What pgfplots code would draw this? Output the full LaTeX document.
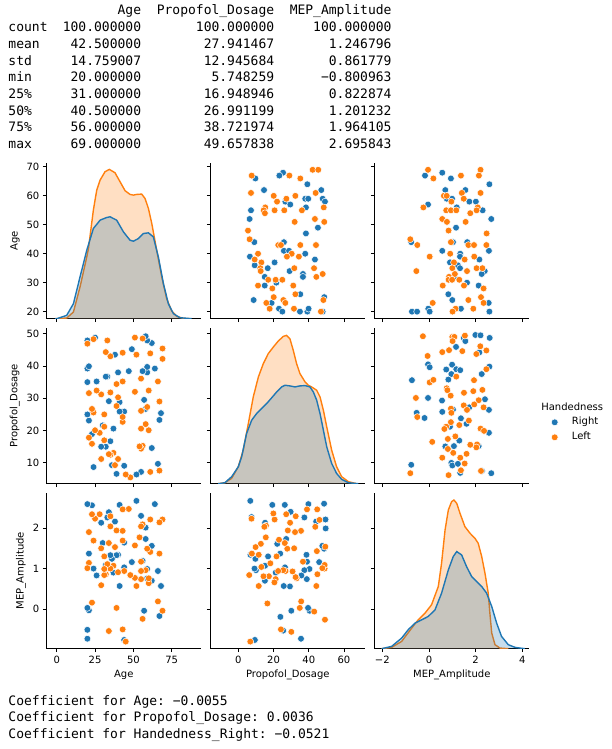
\documentclass[border=0pt]{standalone}
\usepackage{fontspec}
\setmainfont{DejaVu Sans}
\newfontfamily\mono{DejaVu Sans Mono}
\usepackage{pgfplots}
\pgfplotsset{compat=1.18}
\usepackage{pgfplotstable}
\definecolor{tblue}{HTML}{1F77B4}
\definecolor{torange}{HTML}{FF7F0E}
\newcommand\mtxt{\mono\frenchspacing\fontsize{13}{16}\selectfont}

% ---------- scatter data ----------
\pgfplotstableread{
p a
25.4 68
9.7 66
23.3 67
39.2 64
14.6 62
47.1 62
26.7 58
29.5 57
38.0 59
39.7 59
47.9 59
49.2 58
7.2 55
38.4 56
6.4 52
45.2 49
38.4 47
9.1 44
25.9 44
25.9 41
28.8 41
38.0 40
6.6 39
43.5 38
20.6 37
9.3 36
16.7 35
29.1 34
36.7 33
36.7 32
15.0 32
21.6 30
15.0 29
35.2 26
48.8 25
8.7 24
18.9 23
23.1 21
25.0 20
35.0 20
39.2 20
39.9 21
47.9 20
}\APR
\pgfplotstableread{
p a
42.2 69
45.4 69
7.6 67
29.0 67
35.2 66
7.2 61
43.9 61
20.1 60
32.4 60
27.3 59
22.0 58
15.3 56
14.4 55
15.1 54
20.6 55
26.1 55
36.1 55
48.5 56
43.5 52
32.0 51
48.8 51
5.5 48
6.4 45
22.7 43
24.2 43
35.2 43
44.1 43
11.2 40
30.3 40
27.6 39
34.4 39
9.3 38
13.1 37
12.5 35
12.7 34
31.8 35
43.0 35
47.9 33
44.3 32
17.0 31
21.2 31
25.0 31
11.2 29
31.2 29
19.3 28
32.4 26
20.1 25
25.6 24
48.3 24
15.9 23
26.7 23
17.8 21
31.6 21
46.9 20
}\APL
\pgfplotstableread{
m a
-0.17 67
0.57 68
0.94 66
2.59 64
0.70 62
1.56 62
0.76 59
0.99 59
1.73 58
2.01 58
-0.04 57
1.19 56
2.30 55
2.67 52
1.16 49
-0.76 44
1.03 44
1.64 44
0.57 41
2.57 41
1.34 40
1.33 39
2.16 38
0.90 37
1.24 36
1.33 35
2.39 34
2.26 33
1.09 32
1.63 30
2.13 29
0.83 26
1.00 24
2.56 23
-0.03 21
1.37 21
-0.73 20
-0.51 20
0.03 20
2.59 20
}\AMR
\pgfplotstableread{
m a
-0.04 69
2.21 69
0.19 66
1.37 67
2.14 67
1.41 61
2.21 61
0.64 60
0.76 60
1.49 59
0.96 58
-0.24 56
2.09 56
0.74 55
0.94 55
1.17 55
1.77 54
2.04 55
0.57 52
0.77 51
1.57 51
0.84 48
2.47 47
-0.80 45
-0.50 43
0.94 44
1.69 43
1.93 43
2.46 43
0.91 40
0.03 39
1.53 38
1.94 39
1.07 37
1.00 35
1.63 34
2.04 35
2.29 35
-0.54 34
1.11 33
0.86 32
0.84 31
0.99 31
1.30 31
0.59 29
1.50 29
2.34 28
2.23 25
1.69 24
0.16 23
2.34 23
1.14 21
1.90 21
1.01 20
}\AML
\pgfplotstableread{
m p
1.49 48.7
1.56 47.7
1.99 49.6
2.21 49.5
2.60 48.7
1.16 45.9
2.16 44.2
-0.04 40.5
0.03 39.6
0.99 40.4
0.74 38.9
1.17 39.0
1.34 38.7
0.96 37.5
2.59 39.8
2.26 37.5
-0.73 35.6
0.83 35.8
-0.04 30.1
0.56 29.3
2.40 29.7
1.73 27.2
1.03 26.5
0.57 25.8
2.57 26.4
-0.53 25.5
-0.19 23.9
1.37 23.8
1.61 22.1
0.90 21.2
2.57 19.3
1.30 16.9
0.70 15.1
1.07 15.2
2.13 15.2
0.96 10.0
1.00 9.2
1.24 9.7
-0.76 9.4
1.34 6.9
2.27 7.5
2.67 6.8
}\PMR
\pgfplotstableread{
m p
-0.26 49.2
1.00 49.0
1.09 49.0
1.01 47.7
1.54 49.4
2.20 46.1
0.57 44.3
0.86 44.9
1.43 44.6
2.03 43.7
2.46 44.8
-0.06 43.1
2.46 39.0
1.17 36.7
0.03 34.9
0.19 35.7
1.93 35.6
0.76 33.1
0.79 32.5
1.50 31.7
1.90 32.2
2.29 32.6
0.93 30.8
-0.56 30.1
2.13 29.4
1.49 27.8
1.94 28.1
2.34 27.2
1.63 26.4
0.94 26.8
0.96 25.5
-0.50 24.2
1.71 23.1
0.94 22.6
1.30 21.7
0.74 21.2
0.66 20.5
2.21 20.6
2.36 19.9
1.13 18.2
0.81 17.4
0.14 16.5
1.77 15.6
2.06 15.7
2.03 14.8
1.04 13.1
1.61 12.8
0.57 11.6
1.34 11.6
0.81 14.3
1.53 9.8
1.37 7.7
-0.80 6.8
0.84 6.2
2.23 7.5
}\PML

% ---------- KDE curves (x, height in panel units) ----------
\pgfplotstableread{
x h
-1.1 0
0 0
6.5 10
10.9 45
15.2 125
19.6 205
23.9 270
28.3 295
32.6 303
34.8 305
39.1 295
43.5 260
47.8 235
50 232
53.3 240
56.5 255
59.8 257
63.0 245
66.3 185
69.6 105
72.8 45
76.1 15
80.4 3
88 0
}\kAR
\pgfplotstableread{
x h
-1.1 0
6.5 2
10.9 20
15.2 95
19.6 185
20.7 210
23.9 325
26.1 385
28.3 415
31.5 440
34.3 447
38.0 437
41.3 410
44.6 383
47.8 372
50 370
52.2 372
55.4 373
57.6 360
59.8 330
62.0 285
65.2 205
68.5 125
71.7 60
75 23
78.3 7
82.6 1
87 0
}\kAL
\pgfplotstableread{
x h
-11.4 0
-7.6 3
-3.8 21
0 51
1.9 81
4.7 151
7.6 191
10.4 211
13.2 226
16.1 241
18.9 258
21.8 276
24.6 291
26.5 296
29.3 294
32.2 291
35.0 294
37.9 295
40.7 291
42.6 276
44.5 251
46.4 211
48.3 161
50.2 111
53.0 61
55.8 31
58.7 13
62.5 3
68.1 0
}\kPR
\pgfplotstableread{
x h
-11.4 0
-7.6 3
-3.8 16
0 51
2.8 101
5.7 181
8.5 261
11.4 321
14.2 361
17.0 391
19.9 411
22.7 429
25.6 443
27.4 446
29.3 436
31.2 401
33.1 361
35.0 331
37.9 306
39.7 296
41.6 291
44.5 281
46.4 261
48.3 221
50.2 171
53.0 101
55.8 51
58.7 21
62.5 6
67.2 0
}\kPL
\pgfplotstableread{
x h
-2.03 0
-1.6 7
-1.17 32
-0.89 57
-0.6 77
-0.31 87
-0.03 97
0.26 117
0.54 167
0.83 237
1.04 277
1.19 292
1.4 282
1.61 247
1.83 217
2.04 202
2.26 187
2.47 167
2.69 127
2.9 77
3.11 37
3.4 12
3.69 4
4.11 0
}\kMR
\pgfplotstableread{
x h
-2.03 0
-1.6 4
-1.17 22
-0.74 62
-0.46 87
-0.17 107
0.11 132
0.4 187
0.54 257
0.69 357
0.83 417
0.97 442
1.07 447
1.19 437
1.33 407
1.54 367
1.76 347
1.97 332
2.11 317
2.26 277
2.4 227
2.54 167
2.61 107
2.69 47
2.83 12
3.04 2
3.4 0
}\kML

\pgfplotsset{
 pp/.style={scale only axis, width=155pt, height=156pt, anchor=south west,
   axis lines=left, axis line style={-, line width=0.8pt, black},
   tick align=outside, major tick length=3.5pt,
   tick style={line width=0.8pt, black},
   enlargelimits=false,
   tick label style={font=\fontsize{10}{12}\selectfont},
   label style={font=\fontsize{10}{12}\selectfont}},
 cA/.style={xmin=-6.8, xmax=94.3, xtick={0,25,50,75}},
 cP/.style={xmin=-15.9, xmax=72.1, xtick={0,20,40,60}},
 cM/.style={xmin=-2.343, xmax=4.3, xtick={-2,0,2,4}},
 rA/.style={ymin=17.55, ymax=71.45, ytick={20,30,40,50,60,70}},
 rP/.style={ymin=3.55, ymax=51.85, ytick={10,20,30,40,50}},
 rM/.style={ymin=-0.976, ymax=2.871, ytick={0,1,2}},
 noxl/.style={xticklabel style={opacity=0}},
 noyl/.style={yticklabel style={opacity=0}},
 scR/.style={only marks, mark=*, mark size=3.4pt, fill=tblue, draw=white, line width=0.5pt},
 scL/.style={only marks, mark=*, mark size=3.4pt, fill=torange, draw=white, line width=0.5pt},
 kfR/.style={fill=tblue, fill opacity=0.25, draw=none},
 kfL/.style={fill=torange, fill opacity=0.25, draw=none},
 klR/.style={tblue, line width=1.4pt, no marks},
 klL/.style={torange, line width=1.4pt, no marks},
}

\begin{document}
\begin{tikzpicture}
\path[use as bounding box] (0,0) rectangle (611pt,-749pt);

% ---- describe() table ----
\foreach \yy/\a/\b/\c/\d in {
  15.0//Age/Propofol\_Dosage/MEP\_Amplitude,
  31.7/count/100.000000/100.000000/100.000000,
  48.4/mean/42.500000/27.941467/1.246796,
  65.1/std/14.759007/12.945684/0.861779,
  81.8/min/20.000000/5.748259/−0.800963,
  98.5/25\%/31.000000/16.948946/0.822874,
  115.2/50\%/40.500000/26.991199/1.201232,
  131.9/75\%/56.000000/38.721974/1.964105,
  148.6/max/69.000000/49.657838/2.695843}{
  \node[anchor=base west, inner sep=0pt] at (8.3pt,-\yy pt) {\mtxt \a};
  \node[anchor=base east, inner sep=0pt] at (141.3pt,-\yy pt) {\mtxt \b};
  \node[anchor=base east, inner sep=0pt] at (274.4pt,-\yy pt) {\mtxt \c};
  \node[anchor=base east, inner sep=0pt] at (391.7pt,-\yy pt) {\mtxt \d};
}

% ---- row 1 ----
\begin{axis}[pp, cA, rA, noxl, yticklabels={20,30,40,50,60,70}, ylabel={Age}, at={(46.3pt,-318.7pt)}]
\addplot[kfL] table[x=x, y expr=17.55+\thisrow{h}*53.9/467] {\kAL} -- cycle;
\addplot[klL] table[x=x, y expr=17.55+\thisrow{h}*53.9/467] {\kAL};
\addplot[kfR] table[x=x, y expr=17.55+\thisrow{h}*53.9/467] {\kAR} -- cycle;
\addplot[klR] table[x=x, y expr=17.55+\thisrow{h}*53.9/467] {\kAR};
\end{axis}
\begin{axis}[pp, cP, rA, noxl, noyl, at={(210.3pt,-318.7pt)}]
\addplot[scR] table[x=p, y=a] {\APR};
\addplot[scL] table[x=p, y=a] {\APL};
\end{axis}
\begin{axis}[pp, cM, rA, noxl, noyl, at={(374.3pt,-318.7pt)}]
\addplot[scR] table[x=m, y=a] {\AMR};
\addplot[scL] table[x=m, y=a] {\AML};
\end{axis}

% ---- row 2 ----
\begin{axis}[pp, cA, rP, noxl, yticklabels={10,20,30,40,50}, ylabel={Propofol\_Dosage}, at={(46.3pt,-483.7pt)}]
\addplot[scR] table[x=a, y=p] {\APR};
\addplot[scL] table[x=a, y=p] {\APL};
\end{axis}
\begin{axis}[pp, cP, rP, noxl, noyl, at={(210.3pt,-483.7pt)}]
\addplot[kfL] table[x=x, y expr=3.55+\thisrow{h}*48.3/469] {\kPL} -- cycle;
\addplot[klL] table[x=x, y expr=3.55+\thisrow{h}*48.3/469] {\kPL};
\addplot[kfR] table[x=x, y expr=3.55+\thisrow{h}*48.3/469] {\kPR} -- cycle;
\addplot[klR] table[x=x, y expr=3.55+\thisrow{h}*48.3/469] {\kPR};
\end{axis}
\begin{axis}[pp, cM, rP, noxl, noyl, at={(374.3pt,-483.7pt)},
  legend style={draw=none, fill=none, inner sep=0pt, outer sep=0pt,
    at={(axis description cs:1.142,0.3455)}, anchor=west,
    font=\fontsize{10}{12}\selectfont, row sep=3pt,
    nodes={inner xsep=3.33pt, inner ysep=1pt, text height=7.5pt, text depth=2.5pt},
    /tikz/every odd column/.append style={column sep=10.5pt}},
  legend cell align=left,
  legend image code/.code={\draw[#1] plot coordinates {(0pt,0pt)};}]
\addplot[scR] table[x=m, y=p] {\PMR};
\addlegendentry{Right}
\addplot[scL] table[x=m, y=p] {\PML};
\addlegendentry{Left}
\end{axis}

% ---- row 3 ----
\begin{axis}[pp, cA, rM, xticklabels={0,25,50,75}, yticklabels={0,1,2},
  xlabel={Age}, ylabel={MEP\_Amplitude}, at={(46.3pt,-648.7pt)}]
\addplot[scR] table[x=a, y=m] {\AMR};
\addplot[scL] table[x=a, y=m] {\AML};
\end{axis}
\begin{axis}[pp, cP, rM, noyl, xticklabels={0,20,40,60},
  xlabel={Propofol\_Dosage}, at={(210.3pt,-648.7pt)}]
\addplot[scR] table[x=p, y=m] {\PMR};
\addplot[scL] table[x=p, y=m] {\PML};
\end{axis}
\begin{axis}[pp, cM, rM, noyl, xticklabels={−2,0,2,4},
  xlabel={MEP\_Amplitude}, at={(374.3pt,-648.7pt)}]
\addplot[kfL] table[x=x, y expr=-0.976+\thisrow{h}*3.847/469] {\kML} -- cycle;
\addplot[klL] table[x=x, y expr=-0.976+\thisrow{h}*3.847/469] {\kML};
\addplot[kfR] table[x=x, y expr=-0.976+\thisrow{h}*3.847/469] {\kMR} -- cycle;
\addplot[klR] table[x=x, y expr=-0.976+\thisrow{h}*3.847/469] {\kMR};
\end{axis}

% ---- legend title ----
\node[anchor=base, inner sep=0pt, font=\fontsize{10}{12}\selectfont] at (572.2pt,-410.7pt) {Handedness};

% ---- printed coefficients ----
\node[anchor=base west, inner sep=0pt] at (8.3pt,-705pt) {\mtxt Coefficient for Age: −0.0055};
\node[anchor=base west, inner sep=0pt] at (8.3pt,-721.7pt) {\mtxt Coefficient for Propofol\_Dosage: 0.0036};
\node[anchor=base west, inner sep=0pt] at (8.3pt,-738.3pt) {\mtxt Coefficient for Handedness\_Right: −0.0521};
\end{tikzpicture}
\end{document}
